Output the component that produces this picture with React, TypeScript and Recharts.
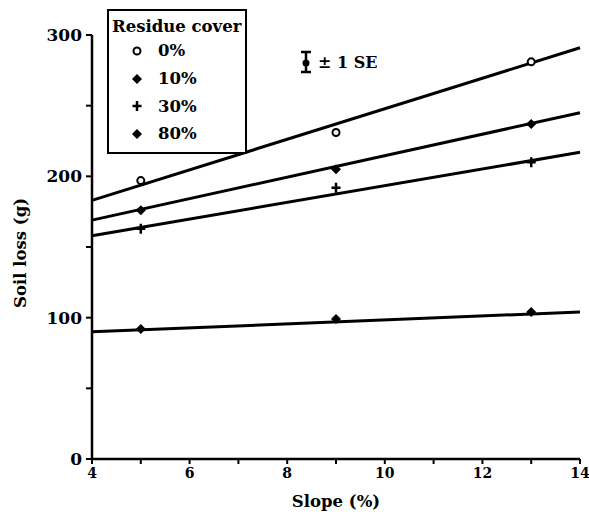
import React from 'react'
import { ScatterChart, Scatter, XAxis, YAxis, ReferenceLine, Legend, Label } from 'recharts'

// slope (%) where soil loss was measured
const slopes = [5, 9, 13]
// soil loss (g) for each residue cover
const cover0 = [197, 231, 281]
const cover10 = [176, 205, 237]
const cover30 = [163, 192, 210]
const cover80 = [92, 99, 104]
const coverNames = ['0%', '10%', '30%', '80%']
// fitted lines, read at slope 4 and slope 14
const fitX = [4, 14]
const fitStart = [183, 169, 158, 90]
const fitEnd = [291, 245, 217, 104]
const xTicks = [4, 5, 6, 7, 8, 9, 10, 11, 12, 13, 14]
const yTicks = [0, 50, 100, 150, 200, 250, 300]

const font = '"DejaVu Serif", serif'

const toPoints = (ys: number[]) => slopes.map((x, i) => ({ x, y: ys[i] }))

const OpenCircle = ({ cx, cy }: any) => (
  <circle cx={cx} cy={cy} r={3.5} fill="#fff" stroke="#000" strokeWidth={2} />
)
const Diamond = ({ cx, cy }: any) => (
  <path d={`M${cx},${cy - 5}L${cx + 5},${cy}L${cx},${cy + 5}L${cx - 5},${cy}Z`} fill="#000" />
)
const Plus = ({ cx, cy }: any) => (
  <path d={`M${cx - 4.5},${cy}H${cx + 4.5}M${cx},${cy - 5}V${cy + 5}`} stroke="#000" strokeWidth={2.5} />
)

const shapes = [OpenCircle, Diamond, Plus, Diamond]
const series = [cover0, cover10, cover30, cover80]

function LegendBox() {
  return (
    <div
      style={{
        border: '2px solid #000',
        background: '#fff',
        fontFamily: font,
        fontWeight: 'bold',
        fontSize: 16.5,
        color: '#000',
        padding: '6px 0 4px 3px',
        width: 140,
        boxSizing: 'border-box',
        whiteSpace: 'nowrap',
      }}
    >
      <div style={{ lineHeight: '20px' }}>Residue cover</div>
      {coverNames.map((name, i) => {
        const Shape = shapes[i]
        return (
          <div key={name} style={{ display: 'flex', alignItems: 'center', height: 27.7 }}>
            <svg width={46} height={20}>
              <Shape cx={25} cy={10} />
            </svg>
            <span>{name}</span>
          </div>
        )
      })}
    </div>
  )
}

export default function App() {
  return (
    <div style={{ position: 'absolute', left: 0, top: 0, width: 589, height: 522, background: '#fff' }}>
      <ScatterChart width={589} height={522} margin={{ top: 35, right: 9, left: 42, bottom: 15 }}>
        <XAxis
          type="number"
          dataKey="x"
          domain={[4, 14]}
          ticks={xTicks}
          interval={0}
          tickFormatter={(v: number) => (v % 2 === 0 ? String(v) : '')}
          allowDataOverflow
          height={48}
          axisLine={{ stroke: '#000', strokeWidth: 2.5 }}
          tickLine={{ stroke: '#000', strokeWidth: 2 }}
          tickSize={5}
          tickMargin={4}
          tick={{ fill: '#000', fontFamily: font, fontWeight: 'bold', fontSize: 14 }}
        >
          <Label
            value="Slope (%)"
            position="insideBottom"
            offset={0}
            fill="#000"
            style={{ fill: '#000', fontFamily: font, fontWeight: 'bold', fontSize: 16.5 }}
          />
        </XAxis>
        <YAxis
          type="number"
          dataKey="y"
          domain={[0, 300]}
          ticks={yTicks}
          interval={0}
          tickFormatter={(v: number) => (v % 100 === 0 ? String(v) : '')}
          width={50}
          axisLine={{ stroke: '#000', strokeWidth: 2.5 }}
          tickLine={{ stroke: '#000', strokeWidth: 2 }}
          tickSize={6}
          tickMargin={4}
          tick={{ fill: '#000', fontFamily: font, fontWeight: 'bold', fontSize: 17 }}
        >
          <Label
            content={() => (
              <text
                x={20}
                y={253}
                transform="rotate(-90 20 253)"
                textAnchor="middle"
                dominantBaseline="central"
                fill="#000"
                fontFamily={font}
                fontWeight="bold"
                fontSize={16.5}
              >
                Soil loss (g)
              </text>
            )}
          />
        </YAxis>
        {fitStart.map((y0, i) => (
          <ReferenceLine
            key={'fit' + i}
            segment={[
              { x: fitX[0], y: y0 },
              { x: fitX[1], y: fitEnd[i] },
            ]}
            stroke="#000"
            strokeWidth={3}
            ifOverflow="visible"
          />
        ))}
        {series.map((ys, i) => (
          <Scatter
            key={coverNames[i]}
            name={coverNames[i]}
            data={toPoints(ys)}
            shape={shapes[i]}
            isAnimationActive={false}
          />
        ))}
        <Legend
          layout="vertical"
          align="center"
          verticalAlign="middle"
          wrapperStyle={{ left: 107, top: 9, width: 140 }}
          content={() => <LegendBox />}
        />
      </ScatterChart>
      <div
        style={{
          position: 'absolute',
          left: 297,
          top: 50,
          display: 'flex',
          alignItems: 'center',
          fontFamily: font,
          fontWeight: 'bold',
          fontSize: 16,
          color: '#000',
        }}
      >
        <svg width={18} height={24}>
          <path d="M4,2H14M9,2V22M4,22H14" stroke="#000" strokeWidth={2.5} />
          <circle cx={9} cy={13} r={3.5} fill="#000" />
        </svg>
        <span style={{ marginLeft: 3 }}>± 1 SE</span>
      </div>
    </div>
  )
}
